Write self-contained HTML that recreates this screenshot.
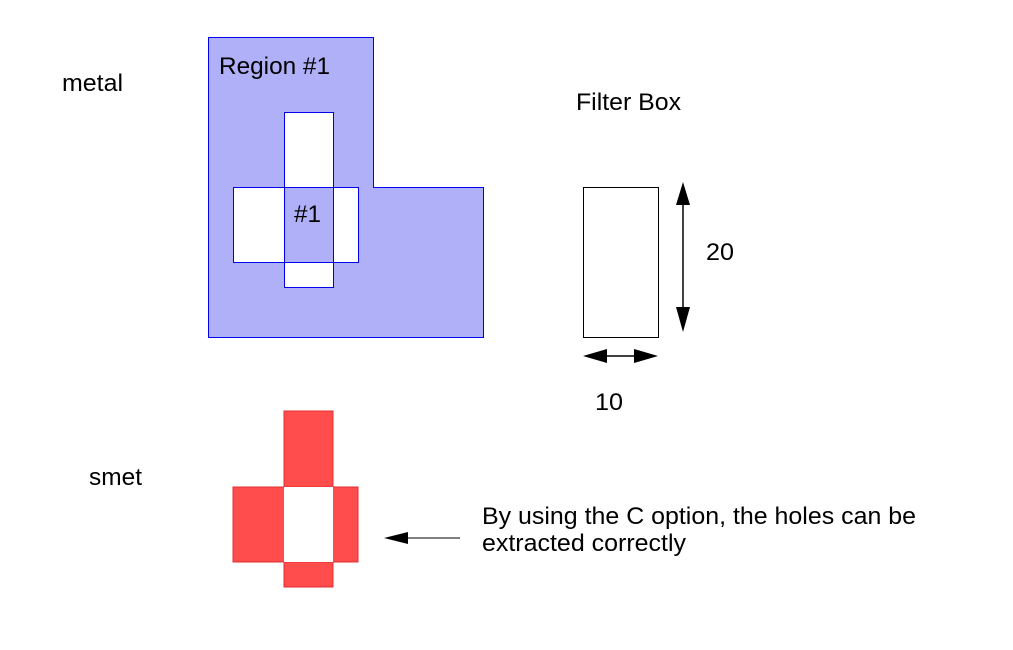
<!DOCTYPE html>
<html><head><meta charset="utf-8"><style>
html,body{margin:0;padding:0;background:#fff;}
svg{display:block;}
text{font-family:"Liberation Sans",sans-serif;font-size:24px;fill:#000;}
</style></head><body>
<svg width="1013" height="650" viewBox="0 0 1013 650">
<rect width="1013" height="650" fill="#fff"/>
<path d="M208.5,37.5 H373.5 V187.5 H483.5 V337.5 H208.5 Z" fill="#b0b0f8" stroke="#0000ee" stroke-width="1"/>
<rect x="284.5" y="112.5" width="49" height="175" fill="#fff" stroke="#0000ee"/>
<rect x="233.5" y="187.5" width="125" height="75" fill="#fff" stroke="#0000ee"/>
<rect x="284.5" y="187.5" width="49" height="75" fill="#b0b0f8" stroke="#0000ee"/>
<text x="219" y="74" textLength="111" lengthAdjust="spacingAndGlyphs">Region #1</text>
<text x="294" y="222" textLength="27" lengthAdjust="spacingAndGlyphs">#1</text>
<text x="62" y="91" textLength="61" lengthAdjust="spacingAndGlyphs">metal</text>
<text x="576" y="110" textLength="105" lengthAdjust="spacingAndGlyphs">Filter Box</text>
<rect x="583.5" y="187.5" width="75" height="150" fill="#fff" stroke="#000"/>
<line x1="683" y1="200" x2="683" y2="318" stroke="#000" stroke-width="1.5"/>
<polygon points="683,182 676,205 690,205" fill="#000"/>
<polygon points="683,332 676,307 690,307" fill="#000"/>
<text x="706" y="260" textLength="28" lengthAdjust="spacingAndGlyphs">20</text>
<line x1="600" y1="356" x2="640" y2="356" stroke="#000" stroke-width="1.5"/>
<polygon points="583,356 607,349 607,363" fill="#000"/>
<polygon points="658,356 634,349 634,363" fill="#000"/>
<text x="595" y="410" textLength="28" lengthAdjust="spacingAndGlyphs">10</text>
<text x="89" y="485" textLength="53" lengthAdjust="spacingAndGlyphs">smet</text>
<rect x="284" y="411" width="49" height="176" fill="#ff4c4c" stroke="#e03030"/>
<rect x="233" y="487" width="125" height="75" fill="#ff4c4c" stroke="#e03030"/>
<rect x="284" y="487" width="49" height="75" fill="#fff"/>
<line x1="400" y1="538" x2="460" y2="538" stroke="#000" stroke-width="1"/>
<polygon points="384,538 408,532 408,544" fill="#000"/>
<text x="482" y="524" textLength="434" lengthAdjust="spacingAndGlyphs">By using the C option, the holes can be</text>
<text x="482" y="551" textLength="204" lengthAdjust="spacingAndGlyphs">extracted correctly</text>
</svg>
</body></html>
